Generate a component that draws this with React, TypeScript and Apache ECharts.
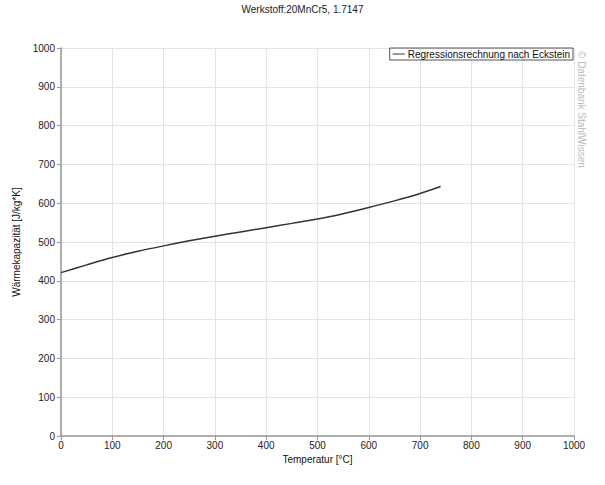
import React, { useEffect, useRef } from "react";
import * as echarts from "echarts";

const temperatures = [0, 50, 100, 150, 200, 250, 300, 350, 400, 450, 500, 550, 600, 650, 700, 740];
const heatCapacity = [421, 441, 460, 476, 490, 503, 515, 526, 537, 548, 559, 573, 589, 606, 625, 643];
const seriesName = "Regressionsrechnung nach Eckstein";
const titleText = "Werkstoff:20MnCr5, 1.7147";
const xName = "Temperatur [°C]";
const yName = "Wärmekapazität [J/kg*K]";
const watermark = "© Datenbank StahlWissen";

export default function App() {
  const ref = useRef<HTMLDivElement>(null);
  useEffect(() => {
    document.body.style.margin = "0";
    if (!ref.current) return;
    const chart = echarts.init(ref.current, null, { renderer: "svg" });
    const font = "Liberation Sans, Arial, sans-serif";
    chart.setOption({
      animation: false,
      backgroundColor: "#fff",
      title: {
        text: titleText,
        left: "center",
        top: -1,
        textStyle: { fontSize: 10, fontWeight: "normal", color: "#222", fontFamily: font },
      },
      legend: {
        right: 32,
        top: 48,
        orient: "horizontal",
        borderColor: "#555",
        borderWidth: 1,
        borderRadius: 0,
        padding: [1, 3, 1, 3],
        itemWidth: 12,
        itemHeight: 1,
        itemGap: 4,
        textStyle: { fontSize: 10, color: "#111", fontFamily: font, padding: [0, 0, 0, -2] },
        data: [{ name: seriesName, icon: "rect" }],
      },
      grid: { left: 61, top: 48, width: 513, height: 388, containLabel: false },
      xAxis: {
        type: "value",
        min: 0,
        max: 1000,
        interval: 100,
        name: xName,
        nameLocation: "middle",
        nameGap: 18,
        nameTextStyle: { fontSize: 10, color: "#111", fontFamily: font },
        axisLine: { show: true, lineStyle: { color: "#999", width: 1.5 } },
        axisTick: { show: true, length: 4, lineStyle: { color: "#999" } },
        axisLabel: { fontSize: 10, color: "#222", fontFamily: font, margin: 4, formatter: (v: number) => String(v) },
        splitLine: { show: true, lineStyle: { color: "#e4e4e4", width: 1 } },
      },
      yAxis: {
        type: "value",
        min: 0,
        max: 1000,
        interval: 100,
        name: yName,
        nameLocation: "middle",
        nameGap: 34,
        nameTextStyle: { fontSize: 10, color: "#111", fontFamily: font },
        axisLine: { show: true, lineStyle: { color: "#999", width: 1.5 } },
        axisTick: { show: true, length: 4, lineStyle: { color: "#999" } },
        axisLabel: { fontSize: 10, color: "#222", fontFamily: font, margin: 6, formatter: (v: number) => String(v) },
        splitLine: { show: true, lineStyle: { color: "#e4e4e4", width: 1 } },
      },
      graphic: [
        {
          type: "text",
          x: 586,
          y: 51,
          rotation: -Math.PI / 2,
          style: {
            text: watermark,
            fontSize: 10,
            fill: "#bbb",
            fontFamily: font,
          },
        },
      ],
      series: [
        {
          name: seriesName,
          type: "line",
          data: temperatures.map((t, i) => [t, heatCapacity[i]]),
          smooth: 0.3,
          showSymbol: false,
          lineStyle: { color: "#333", width: 1.5 },
          itemStyle: { color: "#333" },
        },
      ],
    });
    return () => chart.dispose();
  }, []);
  return <div ref={ref} style={{ width: 605, height: 485 }} />;
}
